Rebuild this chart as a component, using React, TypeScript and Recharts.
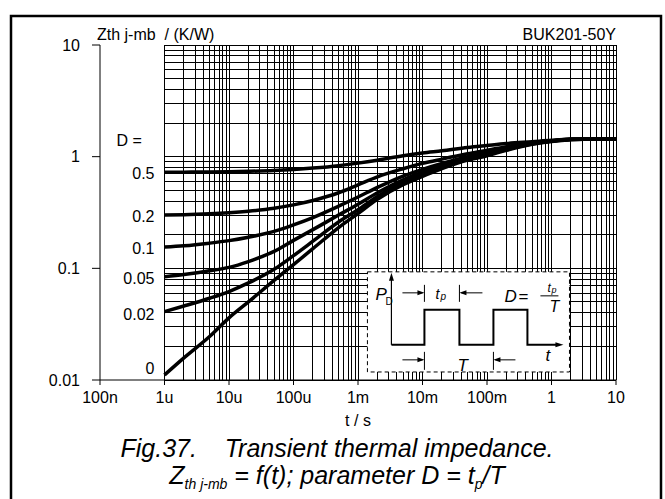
import React from "react";
import {
  LineChart,
  Line,
  XAxis,
  YAxis,
  ReferenceLine,
  ReferenceArea,
  ReferenceDot,
} from "recharts";

// pulse duration t (s)
const times = [
  1e-6, 2e-6, 5e-6, 1e-5, 2e-5, 5e-5, 1e-4, 2e-4, 5e-4, 1e-3, 2e-3, 5e-3,
  1e-2, 2e-2, 5e-2, 0.1, 0.2, 0.5, 1, 2, 5, 10,
];

// Zth j-mb (K/W) for each duty cycle D
const zthD0 = [0.0111, 0.0158, 0.0245, 0.036, 0.05, 0.078, 0.108, 0.15, 0.232, 0.31, 0.415, 0.56, 0.665, 0.78, 0.93, 1.02, 1.14, 1.29, 1.37, 1.42, 1.44, 1.44];
const zthD002 = [0.041, 0.046, 0.054, 0.062, 0.074, 0.098, 0.13, 0.175, 0.26, 0.335, 0.44, 0.59, 0.695, 0.8, 0.95, 1.04, 1.16, 1.3, 1.375, 1.425, 1.44, 1.44];
const zthD005 = [0.084, 0.088, 0.095, 0.102, 0.115, 0.142, 0.178, 0.222, 0.3, 0.375, 0.475, 0.62, 0.725, 0.83, 0.97, 1.06, 1.18, 1.31, 1.38, 1.43, 1.44, 1.44];
const zthD01 = [0.155, 0.159, 0.168, 0.177, 0.19, 0.214, 0.245, 0.285, 0.36, 0.435, 0.53, 0.67, 0.77, 0.87, 1.0, 1.09, 1.2, 1.32, 1.385, 1.43, 1.44, 1.44];
const zthD02 = [0.3, 0.302, 0.308, 0.315, 0.325, 0.345, 0.37, 0.405, 0.475, 0.56, 0.66, 0.78, 0.87, 0.95, 1.06, 1.14, 1.23, 1.335, 1.39, 1.43, 1.44, 1.44];
const zthD05 = [0.725, 0.727, 0.73, 0.734, 0.74, 0.752, 0.768, 0.79, 0.83, 0.875, 0.93, 1.02, 1.08, 1.13, 1.21, 1.26, 1.31, 1.36, 1.4, 1.43, 1.44, 1.44];

const seriesKeys = ["d0", "d002", "d005", "d01", "d02", "d05"];
const seriesValues = [zthD0, zthD002, zthD005, zthD01, zthD02, zthD05];

// curve labels on the left
const dLabels = ["0", "0.02", "0.05", "0.1", "0.2", "0.5"];
const dLabelY = [0.0128, 0.039, 0.082, 0.152, 0.29, 0.71];

const xTicks = [1e-7, 1e-6, 1e-5, 1e-4, 1e-3, 1e-2, 0.1, 1, 10];
const xTickLabels = ["100n", "1u", "10u", "100u", "1m", "10m", "100m", "1", "10"];
const yTicks = [0.01, 0.1, 1, 10];
const yTickLabels = ["0.01", "0.1", "1", "10"];

const rows = times.map((t, i) => {
  const row: Record<string, number> = { t };
  seriesKeys.forEach((k, j) => {
    row[k] = seriesValues[j][i];
  });
  return row;
});

// log grid, only drawn from 1u to 10 s
const gridX: number[] = [];
for (let k = -6; k <= 0; k++) {
  for (let m = 1; m <= 9; m++) gridX.push(m * Math.pow(10, k));
}
gridX.push(10);
const gridY: number[] = [];
for (let k = -2; k <= 0; k++) {
  for (let m = 1; m <= 9; m++) gridY.push(m * Math.pow(10, k));
}
gridY.push(10);

const FONT = "'Liberation Sans', Arial, sans-serif";

function InsetShape(props: any) {
  const { x, y, width, height } = props;
  const ax = x + 24;
  const base = y + 73;
  const high = y + 38;
  const p1 = x + 57;
  const p2 = x + 92;
  const p3 = x + 126;
  const p4 = x + 160;
  const a1 = y + 21;
  const a2 = y + 88;
  const txt = { fontFamily: FONT, fill: "#000", fontStyle: "italic" as const };
  return (
    <g>
      <rect x={x} y={y} width={width} height={height} fill="#fff" stroke="#000" strokeDasharray="4 3" strokeWidth={1} />
      <line x1={ax} y1={base} x2={ax} y2={y + 6} stroke="#000" strokeWidth={1.2} />
      <polygon points={`${ax},${y + 1} ${ax - 2.5},${y + 9} ${ax + 2.5},${y + 9}`} fill="#000" />
      <polygon points={`${x + 196},${base} ${x + 188},${base - 2.5} ${x + 188},${base + 2.5}`} fill="#000" />
      <polyline
        points={`${ax},${base} ${p1},${base} ${p1},${high} ${p2},${high} ${p2},${base} ${p3},${base} ${p3},${high} ${p4},${high} ${p4},${base} ${x + 190},${base}`}
        fill="none"
        stroke="#000"
        strokeWidth={2}
      />
      {/* tp arrows */}
      <line x1={x + 35} y1={a1} x2={p1 - 2} y2={a1} stroke="#000" />
      <polygon points={`${p1},${a1} ${p1 - 7},${a1 - 2.5} ${p1 - 7},${a1 + 2.5}`} fill="#000" />
      <line x1={p1} y1={y + 13} x2={p1} y2={y + 30} stroke="#000" />
      <line x1={x + 115} y1={a1} x2={p2 + 2} y2={a1} stroke="#000" />
      <polygon points={`${p2},${a1} ${p2 + 7},${a1 - 2.5} ${p2 + 7},${a1 + 2.5}`} fill="#000" />
      <line x1={p2} y1={y + 13} x2={p2} y2={y + 30} stroke="#000" />
      {/* T arrows */}
      <line x1={x + 35} y1={a2} x2={p1 - 2} y2={a2} stroke="#000" />
      <polygon points={`${p1},${a2} ${p1 - 7},${a2 - 2.5} ${p1 - 7},${a2 + 2.5}`} fill="#000" />
      <line x1={p1} y1={y + 80} x2={p1} y2={y + 98} stroke="#000" />
      <line x1={x + 148} y1={a2} x2={p3 + 2} y2={a2} stroke="#000" />
      <polygon points={`${p3},${a2} ${p3 + 7},${a2 - 2.5} ${p3 + 7},${a2 + 2.5}`} fill="#000" />
      <line x1={p3} y1={y + 80} x2={p3} y2={y + 98} stroke="#000" />
      {/* texts */}
      <text x={x + 8} y={y + 28} fontSize={17} {...txt}>P</text>
      <text x={x + 18} y={y + 33} fontSize={10} fontFamily={FONT} fill="#000">D</text>
      <text x={x + 68} y={y + 27} fontSize={14} {...txt}>t</text>
      <text x={x + 73} y={y + 28} fontSize={10} {...txt}>p</text>
      <text x={x + 137} y={y + 30} fontSize={17} {...txt}>D</text>
      <text x={x + 151} y={y + 30} fontSize={17} fontFamily={FONT} fill="#000">=</text>
      <text x={x + 180} y={y + 20} fontSize={12} {...txt}>t</text>
      <text x={x + 184} y={y + 21} fontSize={9} {...txt}>p</text>
      <line x1={x + 173} y1={y + 24} x2={x + 191} y2={y + 24} stroke="#000" />
      <text x={x + 182} y={y + 40} fontSize={16} {...txt}>T</text>
      <text x={x + 90} y={y + 99} fontSize={17} {...txt}>T</text>
      <text x={x + 178} y={y + 89} fontSize={17} {...txt}>t</text>
    </g>
  );
}

function curveLabel(text: string, anchor: "start" | "end") {
  return (p: any) => (
    <text
      x={p.cx}
      y={p.cy}
      dy="0.35em"
      textAnchor={anchor}
      fontSize={16}
      fontFamily={FONT}
      fill="#000"
    >
      {text}
    </text>
  );
}

export default function App() {
  const tickStyle = { fontSize: 16, fill: "#000", fontFamily: FONT };
  return (
    <div style={{ position: "absolute", left: 0, top: 0, width: 665, height: 499, background: "#fff" }}>
      <LineChart
        width={665}
        height={499}
        data={rows}
        margin={{ top: 45, right: 49, bottom: 89, left: 0 }}
      >
        <XAxis
          dataKey="t"
          type="number"
          scale="log"
          domain={[1e-7, 10]}
          ticks={xTicks}
          allowDataOverflow
          height={30}
          tickSize={5}
          tickMargin={7}
          stroke="#000"
          tick={tickStyle}
          tickFormatter={(v: number): string => xTickLabels[xTicks.indexOf(v)] ?? ""}
        />
        <YAxis
          type="number"
          scale="log"
          domain={[0.01, 10]}
          ticks={yTicks}
          allowDataOverflow
          width={100}
          tickSize={8}
          tickMargin={12}
          stroke="#000"
          tick={tickStyle}
          tickFormatter={(v: number): string => yTickLabels[yTicks.indexOf(v)] ?? ""}
        />
        {gridY.map((v) => (
          <ReferenceLine
            key={`gy${v}`}
            segment={[{ x: 1e-6, y: v }, { x: 10, y: v }]}
            stroke="#000"
            strokeWidth={1}
            shapeRendering="crispEdges"
          />
        ))}
        {gridX.map((v) => (
          <ReferenceLine
            key={`gx${v}`}
            segment={[{ x: v, y: 0.01 }, { x: v, y: 10 }]}
            stroke="#000"
            strokeWidth={1}
            shapeRendering="crispEdges"
          />
        ))}
        <ReferenceArea
          x1={1.4e-3}
          x2={1.9}
          y1={0.0118}
          y2={0.093}
          shape={InsetShape}
          zIndex={450}
        />
        {seriesKeys.map((k) => (
          <Line
            key={k}
            dataKey={k}
            type="monotone"
            stroke="#000"
            strokeWidth={3.5}
            dot={false}
            isAnimationActive={false}
          />
        ))}
        {dLabels.map((lbl, i) => (
          <ReferenceDot
            key={`lbl${lbl}`}
            x={7e-7}
            y={dLabelY[i]}
            r={0}
            ifOverflow="visible"
            shape={curveLabel(lbl, "end")}
          />
        ))}
        <ReferenceDot x={1.8e-7} y={1.41} r={0} ifOverflow="visible" shape={curveLabel("D =", "start")} />
      </LineChart>
      <svg
        width={665}
        height={499}
        style={{ position: "absolute", left: 0, top: 0, pointerEvents: "none" }}
      >
        <rect x={11} y={16} width={650} height={500} fill="none" stroke="#000" strokeWidth={2.5} />
        <text x={97} y={40} fontSize={16} fontFamily={FONT} fill="#000" xmlSpace="preserve">
          Zth j-mb  / (K/W)
        </text>
        <text x={616} y={40} fontSize={16} fontFamily={FONT} fill="#000" textAnchor="end">
          BUK201-50Y
        </text>
        <text x={358} y={426} fontSize={16} fontFamily={FONT} fill="#000" textAnchor="middle">
          t / s
        </text>
        <text
          x={337}
          y={457}
          fontSize={25}
          fontFamily={FONT}
          fontStyle="italic"
          fill="#000"
          textAnchor="middle"
          xmlSpace="preserve"
        >
          Fig.37.    Transient thermal impedance.
        </text>
        <text x={337} y={484} fontSize={25} fontFamily={FONT} fontStyle="italic" fill="#000" textAnchor="middle">
          Z
          <tspan fontSize={14} dy={5}>th j-mb</tspan>
          <tspan dy={-5}> = f(t); parameter D = t</tspan>
          <tspan fontSize={14} dy={5}>p</tspan>
          <tspan dy={-5}>/T</tspan>
        </text>
      </svg>
    </div>
  );
}
